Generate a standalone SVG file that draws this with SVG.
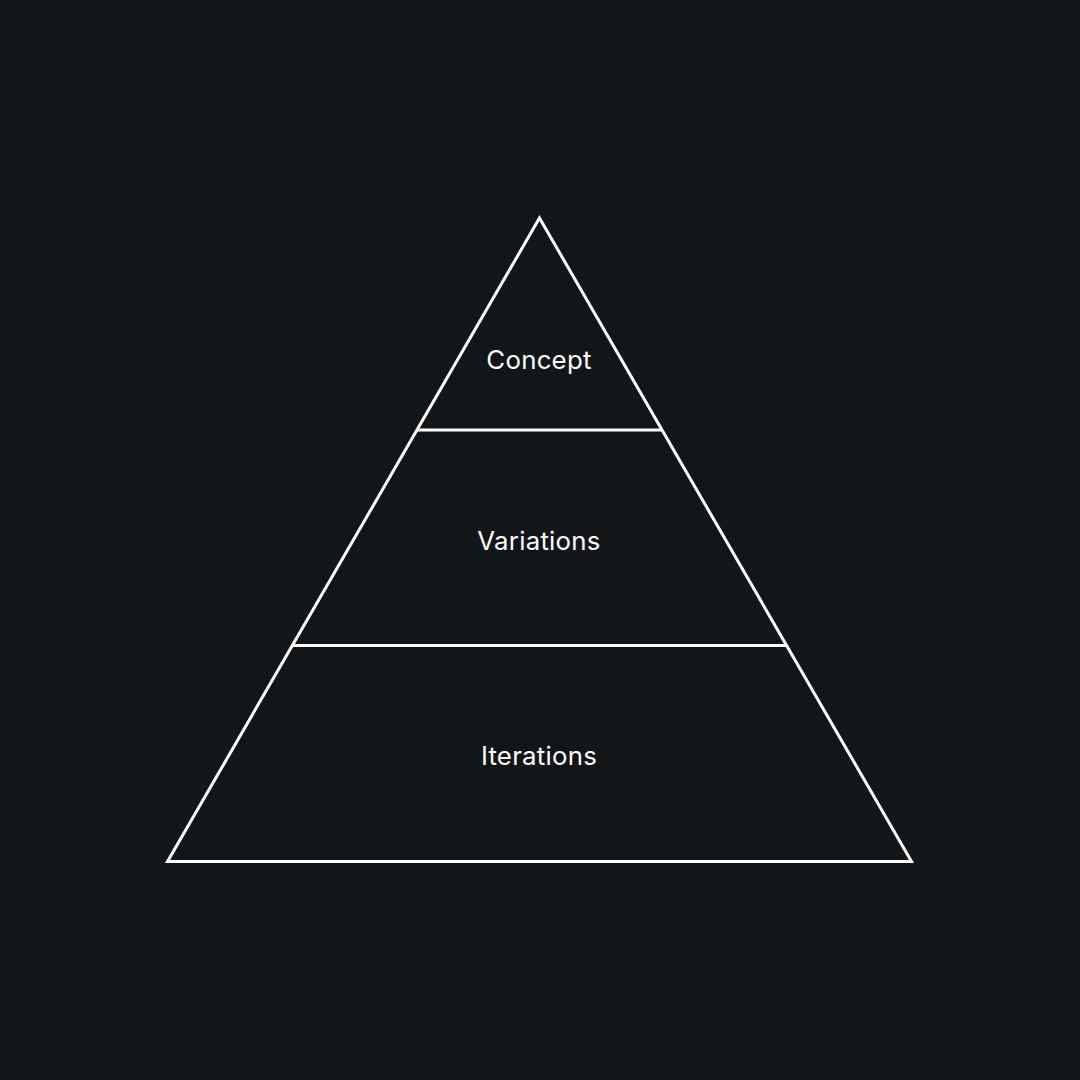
<svg xmlns="http://www.w3.org/2000/svg" width="1080" height="1080" viewBox="0 0 1080 1080">
<style>
.bg{fill:#131619}
.edge{fill:none;stroke:#ffffff;stroke-width:3;stroke-linejoin:miter;stroke-miterlimit:10}
.lbl{fill:#ffffff;font-family:Inter,"Noto Sans","Liberation Sans",sans-serif;font-size:25.8px;font-weight:400;letter-spacing:0.25px;text-anchor:middle}
</style>
<rect class="bg" x="0" y="0" width="1080" height="1080"/>
<g id="connectors">
<polygon class="edge" points="539.5,218 911.5,861.5 167.5,861.5"/>
<line class="edge" x1="416.5" y1="430" x2="662.5" y2="430"/>
<line class="edge" x1="292" y1="645.5" x2="787" y2="645.5"/>
</g>
<g id="concept"><text class="lbl" x="539" y="368.5">Concept</text></g>
<g id="variations"><text class="lbl" x="539" y="549.5">Variations</text></g>
<g id="iterations"><text class="lbl" x="539" y="765">Iterations</text></g>
</svg>
